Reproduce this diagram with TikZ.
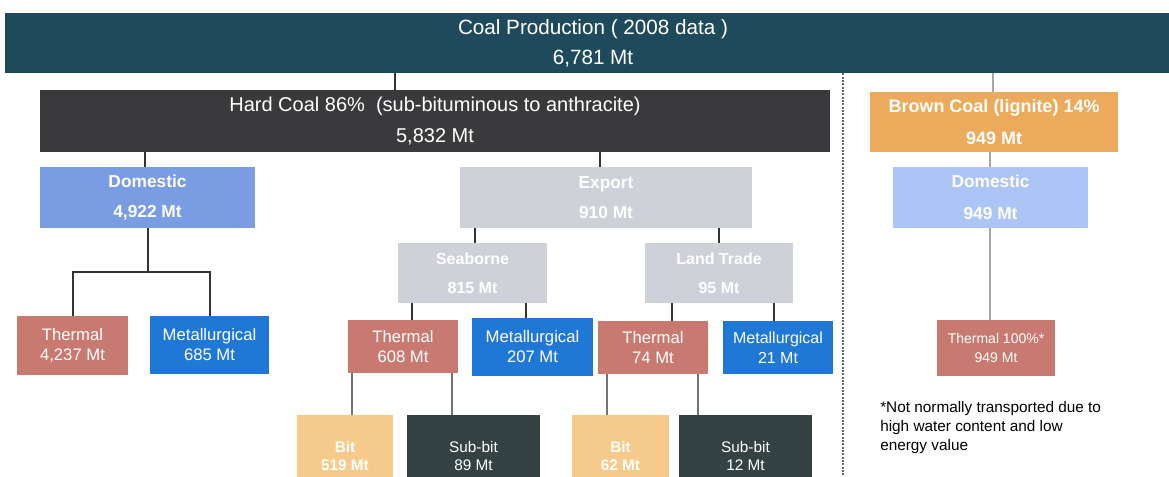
\documentclass[tikz,border=0pt]{standalone}
\usepackage{fontspec}
\setmainfont{Liberation Sans}
\usepackage{tikz}
\usetikzlibrary{positioning,calc}
\definecolor{prodteal}{RGB}{31,74,92}
\definecolor{hardgray}{RGB}{58,57,60}
\definecolor{brownorange}{RGB}{236,170,92}
\definecolor{lightdom}{RGB}{172,196,246}
\definecolor{domblue}{RGB}{122,156,226}
\definecolor{expgray}{RGB}{206,209,215}
\definecolor{thermred}{RGB}{200,122,112}
\definecolor{metblue}{RGB}{32,120,214}
\definecolor{bitsand}{RGB}{245,202,138}
\definecolor{subdark}{RGB}{52,66,67}
\newcommand{\fsz}[2]{\fontsize{#1}{#2}\selectfont}

\begin{document}
\begin{tikzpicture}[x=0.75pt,y=-0.75pt,
  box/.style={rectangle, inner sep=0pt, text=white, align=center},
  sz/.style 2 args={minimum width=#1*0.75pt, minimum height=#2*0.75pt},
  lnk/.style={draw=black!80, line width=1.1pt},
  pale/.style={draw=black!35, line width=1pt}]
  \clip (0,0) rectangle (1169,477);
  \fill[white] (0,0) rectangle (1169,477);
  % top level
  \node[box, sz={1176}{60}, fill=prodteal, font=\fsz{15.5}{22.5}] (prod) at (593,43) {Coal Production ( 2008 data )\\6,781 Mt};
  \node[box, sz={790}{62}, fill=hardgray, font=\fsz{15}{23}] (hard) at (435,121) {Hard Coal 86\%\ \ (sub-bituminous to anthracite)\\5,832 Mt};
  \node[box, sz={248}{60}, fill=brownorange, font=\bfseries\fsz{13.5}{24}] (brown) at (994,122) {Brown Coal (lignite) 14\%\\949 Mt};
  % second level
  \node[box, sz={215}{61}, fill=domblue, font=\bfseries\fsz{13}{22}] (dom) at (147.5,197.5) {Domestic\\4,922 Mt};
  \node[box, sz={292}{61}, fill=expgray, font=\bfseries\fsz{13}{22}] (exp) at (606,197.5) {Export\\910 Mt};
  \node[box, sz={195}{61}, fill=lightdom, font=\bfseries\fsz{13}{24}] (bdom) at (990.5,197.5) {Domestic\\949 Mt};
  \node[box, sz={149}{60}, fill=expgray, font=\bfseries\fsz{12}{22}] (sea) at (472.5,273) {Seaborne\\815 Mt};
  \node[box, sz={148}{60}, fill=expgray, font=\bfseries\fsz{12}{22}] (land) at (719,273) {Land Trade\\95 Mt};
  % thermal / metallurgical
  \node[box, sz={111}{59}, fill=thermred, font=\fsz{12.5}{15}] (t1) at (72.5,345.5) {Thermal\\4,237 Mt};
  \node[box, sz={119}{58}, fill=metblue, font=\fsz{12.5}{15}] (m1) at (209.5,345) {Metallurgical\\685 Mt};
  \node[box, sz={110}{53}, fill=thermred, font=\fsz{12.5}{15}] (t2) at (403,346.5) {Thermal\\608 Mt};
  \node[box, sz={121}{58}, fill=metblue, font=\fsz{12.5}{15}] (m2) at (532.5,347) {Metallurgical\\207 Mt};
  \node[box, sz={110}{53}, fill=thermred, font=\fsz{12.5}{15}] (t3) at (653,347.5) {Thermal\\74 Mt};
  \node[box, sz={110}{53}, fill=metblue, font=\fsz{12}{15}] (m3) at (778,347.5) {Metallurgical\\21 Mt};
  \node[box, sz={118}{56}, fill=thermred, font=\fsz{10.5}{14}] (bther) at (996,348) {Thermal 100\%*\\949 Mt};
  % bit / sub-bit
  \node[box, sz={96}{82}, fill=bitsand, font=\bfseries\fsz{11.5}{14}] (b2) at (345,456) {Bit\\519 Mt};
  \node[box, sz={133}{82}, fill=subdark, font=\fsz{11.5}{14}] (s2) at (473.5,456) {Sub-bit\\89 Mt};
  \node[box, sz={97}{82}, fill=bitsand, font=\bfseries\fsz{11.5}{14}] (b3) at (620.5,456) {Bit\\62 Mt};
  \node[box, sz={133}{82}, fill=subdark, font=\fsz{11.5}{14}] (s3) at (745.5,456) {Sub-bit\\12 Mt};
  % footnote
  \node[anchor=north west, align=left, inner sep=0pt, font=\fsz{11.5}{14.3}] (note) at (880,401) {*Not normally transported due to\\high water content and low\\energy value};
  % connectors
  \draw[lnk] (prod.south -| 395,0) -- (hard.north -| 395,0);
  \draw[pale] (prod.south -| 993,0) -- (brown.north -| 993,0);
  \draw[lnk] (hard.south -| 145,0) -- (dom.north -| 145,0);
  \draw[lnk] (hard.south -| 600,0) -- (exp.north -| 600,0);
  \draw[pale] (brown.south -| 990,0) -- (bdom.north -| 990,0);
  \draw[pale] (bdom.south -| 990,0) -- (bther.north -| 990,0);
  \draw[lnk, line width=1.5pt] (dom.south) -- ++(0,44) coordinate (dj);
  \draw[lnk, line width=1.5pt] (t1.north) |- (dj) -| (m1.north);
  \draw[lnk] (exp.south -| 475,0) -- (sea.north -| 475,0);
  \draw[lnk] (exp.south -| 719,0) -- (land.north -| 719,0);
  \draw[lnk] (sea.south -| 412,0) -- (t2.north -| 412,0);
  \draw[lnk] (sea.south -| 526,0) -- (m2.north -| 526,0);
  \draw[lnk] (land.south -| 672,0) -- (t3.north -| 672,0);
  \draw[lnk] (land.south -| 774,0) -- (m3.north -| 774,0);
  \draw[pale, draw=black!55] (t2.south -| 352,0) -- (b2.north -| 352,0);
  \draw[pale, draw=black!55] (t2.south -| 452,0) -- (s2.north -| 452,0);
  \draw[pale, draw=black!55] (t3.south -| 607,0) -- (b3.north -| 607,0);
  \draw[pale, draw=black!55] (t3.south -| 698,0) -- (s3.north -| 698,0);
  % separator
  \draw[black!60, line width=0.8pt, dash pattern=on 1.5pt off 1pt] (prod.south -| 843,0) -- (843,477);
\end{tikzpicture}
\end{document}
